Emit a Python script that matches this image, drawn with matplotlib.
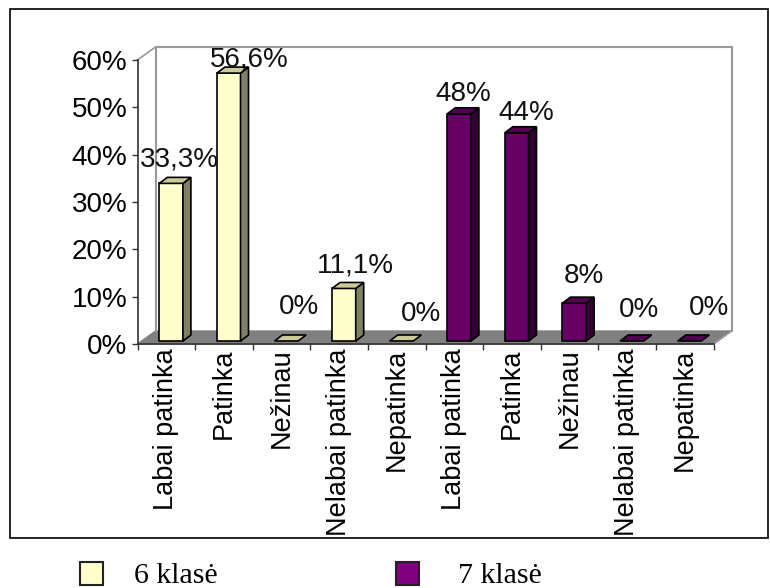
import matplotlib
matplotlib.use('Agg')
import matplotlib.pyplot as plt
from matplotlib.patches import Polygon, Rectangle
from matplotlib.transforms import Affine2D

categories = ['Labai patinka', 'Patinka', 'Nežinau', 'Nelabai patinka', 'Nepatinka',
              'Labai patinka', 'Patinka', 'Nežinau', 'Nelabai patinka', 'Nepatinka']
values = [33.3, 56.6, 0, 11.1, 0, 48, 44, 8, 0, 0]
labels = ['33,3%', '56,6%', '0%', '11,1%', '0%', '48%', '44%', '8%', '0%', '0%']
series = ['6 klasė', '7 klasė']
y_ticks = [0, 10, 20, 30, 40, 50, 60]

# label nudges in pixels, they were moved by hand in the original
label_dx = [13, 25.6, 17, 16, 24, 9, 14, 14, 12, 24]
label_dy = [19.7, 9.4, 30, 18.8, 23.3, 16, 15.8, 23, 27, 29]

W, H = 770, 588
fig = plt.figure(figsize=(W / 100, H / 100), dpi=100)
plt.rcParams['font.family'] = 'Liberation Sans'

ax = fig.add_axes([137.5 / W, 1 - 344 / H, 576 / W, 284 / H])
ax.set_xlim(-0.5, 9.5)
ax.set_ylim(0, 60)
ax.patch.set_visible(False)
for s in ['top', 'right']:
    ax.spines[s].set_visible(False)
for s in ['left', 'bottom']:
    ax.spines[s].set_color('#333333')
    ax.spines[s].set_linewidth(1.2)

ax.set_xticks([i - 0.5 for i in range(11)])
ax.set_xticklabels([])
ax.set_xticks(range(10), minor=True)
ax.set_xticklabels(categories, minor=True, rotation=90, fontsize=19.5,
                   family='Liberation Sans')
ax.tick_params(axis='x', which='minor', length=0, pad=3)
ax.tick_params(axis='x', which='major', length=4.3, width=1, color='#333333')
ax.set_yticks(y_ticks)
ax.set_yticklabels(['%d%%' % t for t in y_ticks], fontsize=20, family='Liberation Sans')
ax.tick_params(axis='y', length=4.3, width=1, color='#333333', pad=3)


def shift(dx, dy):
    return ax.transData + Affine2D().translate(dx, dy)


# depth of the box, pixels
DX, DY = 18, 13
back = shift(DX, DY)
xa, xb = -0.5, 9.5
wall_x = DX / 57.6
wall_y = DY / 4.733

# floor and walls
ax.add_patch(Polygon([(xa, 0), (xb, 0), (xb + wall_x, wall_y), (xa + wall_x, wall_y)],
                     closed=True, fc='#808080', ec='#808080', lw=1, zorder=1, clip_on=False))
ax.plot([xa, xa], [0, 60], transform=back, color='#999999', lw=1.5, zorder=1, clip_on=False)
ax.plot([xa, xb], [60, 60], transform=back, color='#999999', lw=1.5, zorder=1, clip_on=False)
ax.plot([xb, xb], [0, 60], transform=back, color='#999999', lw=1.5, zorder=1, clip_on=False)
ax.plot([xa, xa + wall_x], [60, 60 + wall_y], color='#999999', lw=1.2, zorder=1, clip_on=False)
ax.plot([xb, xb + wall_x], [0, wall_y], color='#999999', lw=1.2, zorder=1, clip_on=False)

BAR_W = 0.41
bdx, bdy = 8 / 57.6, 6 / 4.733
colors = [('#FFFFCC', '#808066', '#CCCC99')] * 5 + [('#660066', '#330033', '#520052')] * 5

t = shift(4.8, 3)
for i, v in enumerate(values):
    front, side, top = colors[i]
    l, r = i - BAR_W / 2, i + BAR_W / 2
    if v > 0:
        ax.bar(i, v, BAR_W, color=front, edgecolor='black', linewidth=1.2, transform=t,
               zorder=3, clip_on=False)
        ax.add_patch(Polygon([(r, 0), (r + bdx, bdy), (r + bdx, v + bdy), (r, v)], closed=True,
                             fc=side, ec='black', lw=1.2, transform=t, zorder=3, clip_on=False))
    ax.add_patch(Polygon([(l, v), (r, v), (r + bdx, v + bdy), (l + bdx, v + bdy)], closed=True,
                         fc=top, ec='black', lw=1.2, transform=t, zorder=3, clip_on=False))

for i, v in enumerate(values):
    ax.text(i, v, labels[i], transform=shift(label_dx[i], label_dy[i]), ha='center',
            va='baseline', fontsize=20, family='Liberation Sans', color='#111111',
            zorder=4, clip_on=False)

# frame and legend live on a pixel overlay
over = fig.add_axes([0, 0, 1, 1], zorder=-1)
over.set_xlim(0, W)
over.set_ylim(H, 0)
over.axis('off')
over.add_patch(Rectangle((9.5, 8.5), 758, 529.5, fc='white', ec='black', lw=1.2))
for x0, txt, c, tx in [(80, series[0], '#FFFFCC', 134), (396, series[1], '#800080', 458)]:
    over.add_patch(Rectangle((x0, 561.5), 23, 23.5, fc=c, ec='#222222', lw=1.5))
    over.text(tx, 583, txt, fontsize=21.5, family='Liberation Serif', va='baseline', ha='left')

fig.savefig('out.png', dpi=100)
